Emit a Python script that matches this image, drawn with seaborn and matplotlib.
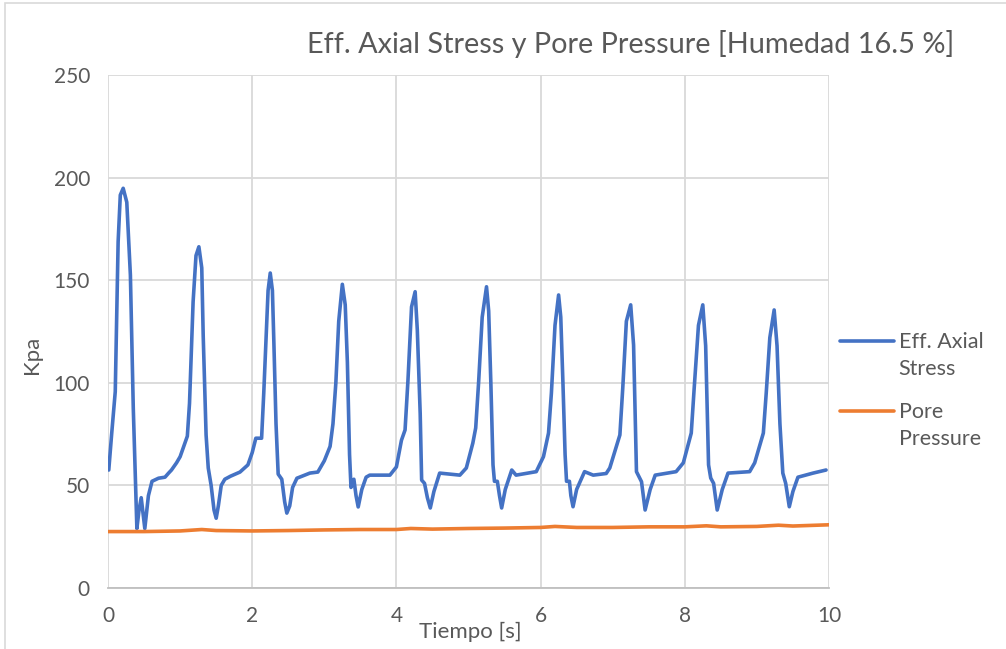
import matplotlib
matplotlib.use('Agg')
import matplotlib.pyplot as plt
import seaborn as sns
import pandas as pd
from matplotlib.patches import Rectangle

# Eff. Axial Stress
t_axial = [0.01, 0.05, 0.10, 0.14, 0.17, 0.21, 0.26, 0.31, 0.35, 0.40, 0.43, 0.46, 0.48, 0.51,
           0.56, 0.61, 0.70, 0.79, 0.84, 0.88, 0.95, 1.00, 1.05, 1.10,
           1.13, 1.18, 1.22, 1.26, 1.30, 1.32, 1.36, 1.39, 1.43, 1.47, 1.50, 1.53, 1.57, 1.62,
           1.70, 1.83, 1.94, 2.00, 2.05, 2.13,
           2.16, 2.19, 2.22, 2.25, 2.28, 2.30, 2.33, 2.36, 2.41, 2.45, 2.48, 2.52, 2.56, 2.62,
           2.80, 2.91, 3.00, 3.08,
           3.12, 3.16, 3.20, 3.25, 3.29, 3.32, 3.35, 3.37, 3.41, 3.44, 3.47, 3.52, 3.58, 3.63,
           3.91, 4.00, 4.07, 4.12,
           4.16, 4.21, 4.26, 4.29, 4.33, 4.35, 4.39, 4.43, 4.47, 4.52, 4.60, 4.88, 4.97, 5.06,
           5.10, 5.14, 5.19, 5.25, 5.28, 5.31, 5.34, 5.36, 5.40, 5.43, 5.46, 5.51, 5.60, 5.66,
           5.94, 6.04, 6.11,
           6.15, 6.20, 6.25, 6.28, 6.31, 6.34, 6.36, 6.40, 6.42, 6.45, 6.50, 6.61, 6.73, 6.91,
           6.96, 7.10,
           7.14, 7.19, 7.25, 7.29, 7.33, 7.40, 7.45, 7.52, 7.59, 7.88, 7.98, 8.09,
           8.13, 8.19, 8.25, 8.29, 8.33, 8.36, 8.40, 8.45, 8.52, 8.60, 8.90, 8.97, 9.09,
           9.13, 9.18, 9.24, 9.28, 9.32, 9.36, 9.40, 9.45, 9.50, 9.57, 9.78, 9.96]
axial = [57.5, 75, 95.7, 168.8, 191.5, 194.8, 188, 152.5, 87.7, 29, 38, 44, 38, 29,
         45, 52, 53.5, 54, 56, 57.5, 61, 64, 69, 74,
         90, 139.5, 162, 166.3, 156, 123, 74.6, 58.5, 50, 38, 34, 40, 50, 53,
         54.5, 56.5, 60, 66, 73, 73,
         95, 120, 145, 153.5, 145, 120, 80, 55.5, 53, 42, 36.5, 40, 49, 53.5,
         56, 56.5, 62, 69,
         80, 100, 130, 148, 138, 110, 65, 49, 53, 45, 39.5, 48, 54, 55,
         55, 59, 72, 77,
         101, 137, 144.4, 125.7, 85, 52.6, 51, 44, 39, 47, 56, 55, 58.5, 70.6,
         78, 100, 132, 146.8, 135, 100, 60, 52, 52, 45, 39, 48, 57.5, 55,
         56.7, 64, 75.5,
         95, 128, 142.8, 132, 100, 65, 52, 52, 45, 39.6, 48, 56.7, 55, 55.8,
         58.5, 74.6,
         97.5, 130, 138, 118.4, 56.7, 51.8, 38, 48, 55, 56.7, 61, 75.5,
         97, 128, 138, 118, 60, 53.6, 51, 38, 48, 56, 56.7, 61, 75.5,
         95, 122, 135.5, 118, 80, 56, 51, 39.6, 47, 54, 56, 57.5]

# Pore Pressure
t_pore = [0.0, 0.5, 1.0, 1.3, 1.5, 2.0, 2.5, 3.0, 3.5, 4.0, 4.2, 4.5, 5.0, 5.5, 6.0, 6.2,
          6.5, 7.0, 7.5, 8.0, 8.3, 8.5, 9.0, 9.3, 9.5, 10.0]
pore = [27.5, 27.5, 27.8, 28.5, 28.0, 27.8, 28.0, 28.3, 28.5, 28.5, 29.0, 28.7, 29.0, 29.2,
        29.5, 30.0, 29.5, 29.5, 29.8, 29.8, 30.3, 29.8, 30.0, 30.6, 30.2, 30.8]

df = pd.concat([
    pd.DataFrame({'Tiempo': t_axial, 'Kpa': axial, 'Serie': 'Eff. Axial\nStress'}),
    pd.DataFrame({'Tiempo': t_pore, 'Kpa': pore, 'Serie': 'Pore\nPressure'}),
])

sns.set_style('white')
plt.rcParams['font.family'] = ['Lato', 'DejaVu Sans']

fig = plt.figure(figsize=(10.06, 6.49), dpi=100)
ax = fig.add_axes([0.1074, 0.094, 0.7166, 0.7904])

sns.lineplot(data=df, x='Tiempo', y='Kpa', hue='Serie', sort=False,
             palette=['#4472C4', '#ED7D31'], linewidth=2.6, ax=ax, legend=True,
             solid_joinstyle='round', solid_capstyle='round')

gray = '#595959'
ax.set_xlim(0, 10)
ax.set_ylim(0, 250)
ax.set_xticks([0, 2, 4, 6, 8, 10])
ax.set_yticks([0, 50, 100, 150, 200, 250])
ax.grid(True, color='#d9d9d9', linewidth=1.3)
ax.set_axisbelow(True)
for s in ['top', 'right', 'left']:
    ax.spines[s].set_visible(False)
ax.spines['bottom'].set_color('#bfbfbf')
ax.spines['bottom'].set_linewidth(1.3)
ax.tick_params(axis='both', length=0, labelsize=15, labelcolor=gray, pad=13)

ax.set_xlabel('Tiempo [s]', fontsize=16, color=gray, va='center')
ax.xaxis.set_label_coords(0.502, -0.086)
ax.set_ylabel('Kpa', fontsize=16, color=gray, va='center')
ax.yaxis.set_label_coords(-0.105, 0.454)

fig.text(0.627, 0.932, 'Eff. Axial Stress y Pore Pressure [Humedad 16.5 %]',
         fontsize=20.8, color=gray, ha='center', va='center')

leg = ax.legend(loc='center left', bbox_to_anchor=(0.989, 0.385), frameon=False,
                fontsize=15.5, handlelength=2.5, labelspacing=1.05, handletextpad=0.2)
for txt in leg.get_texts():
    txt.set_color(gray)
    txt.set_linespacing(1.45)
# alinear la linea con la primera linea del texto, como Excel
for ln in leg.get_lines():
    ln.set_ydata([v + 10.5 for v in ln.get_ydata()])

fig.patches.append(Rectangle((0.005, -0.01), 1.1, 1.005, transform=fig.transFigure,
                             fill=False, edgecolor='#d9d9d9', linewidth=1.2))

fig.savefig('out.png', dpi=100)
